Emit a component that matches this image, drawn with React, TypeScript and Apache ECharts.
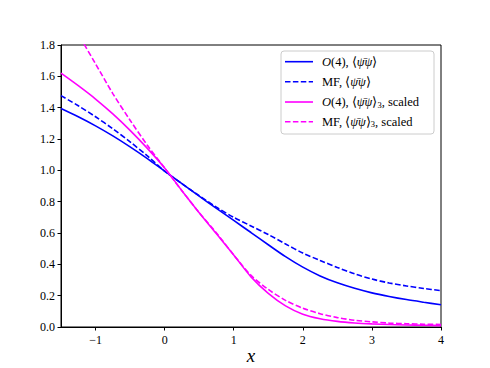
import React, { useEffect, useRef } from "react";
import * as echarts from "echarts";

const xs = [-1.5, -1.25, -1, -0.75, -0.5, -0.25, 0, 0.25, 0.5, 0.75, 1, 1.25, 1.5, 1.75, 2, 2.25, 2.5, 2.75, 3, 3.25, 3.5, 3.75, 4];
const o4Chiral = [1.395, 1.342, 1.284, 1.22, 1.15, 1.075, 0.995, 0.915, 0.835, 0.757, 0.68, 0.603, 0.525, 0.449, 0.382, 0.326, 0.282, 0.247, 0.218, 0.195, 0.175, 0.158, 0.142];
const mfChiral = [1.477, 1.412, 1.342, 1.265, 1.182, 1.092, 0.995, 0.915, 0.838, 0.765, 0.7, 0.645, 0.59, 0.53, 0.472, 0.425, 0.38, 0.339, 0.306, 0.281, 0.262, 0.246, 0.232];
const o4Scaled = [1.62, 1.54, 1.455, 1.36, 1.255, 1.14, 1.015, 0.87, 0.73, 0.595, 0.46, 0.32, 0.215, 0.135, 0.082, 0.053, 0.036, 0.026, 0.02, 0.016, 0.013, 0.011, 0.009];
const mfScaled = [2.07, 1.87, 1.68, 1.49, 1.32, 1.16, 1.015, 0.87, 0.73, 0.6, 0.46, 0.33, 0.24, 0.17, 0.12, 0.085, 0.06, 0.043, 0.033, 0.025, 0.021, 0.018, 0.016];
const xTicks = [-1, 0, 1, 2, 3, 4];
const legendLabels = [
  "{i|O}(4), ⟨{i|ψ̄ψ}⟩",
  "MF, ⟨{i|ψ̄ψ}⟩",
  "{i|O}(4), ⟨{i|ψ̄ψ}⟩{s|3}, scaled",
  "MF, ⟨{i|ψ̄ψ}⟩{s|3}, scaled",
];
const legendColors = ["#0000ff", "#0000ff", "#ff00ff", "#ff00ff"];
const legendDashed = [false, true, false, true];

const FONT = "Liberation Serif";

export default function App() {
  const ref = useRef<HTMLDivElement>(null);
  useEffect(() => {
    if (!ref.current) return;
    const chart = echarts.init(ref.current, undefined, { renderer: "svg" });
    const mk = (ys: number[]) => xs.map((x, i) => [x, ys[i]]);
    const dash = [5.5, 2.4];
    const line = (name: string, ys: number[], color: string, dashed: boolean) => ({
      name,
      type: "line",
      data: mk(ys),
      smooth: 0.3,
      showSymbol: false,
      symbol: "none",
      clip: true,
      lineStyle: { color, width: 1.6, type: dashed ? dash : "solid" },
      itemStyle: { color },
    });
    const legendRows = [61.7, 81.7, 102, 121.7];
    const legendGraphics: any[] = [
      {
        type: "rect",
        shape: { x: 281, y: 51, width: 153, height: 83, r: 3 },
        style: { fill: "#fff", stroke: "#cccccc", lineWidth: 1 },
        z: 100,
      },
    ];
    legendRows.forEach((y, i) => {
      legendGraphics.push({
        type: "line",
        shape: { x1: 285, y1: y, x2: 313, y2: y },
        style: {
          stroke: legendColors[i],
          lineWidth: 1.6,
          lineDash: legendDashed[i] ? dash : null,
        },
        z: 101,
      });
      legendGraphics.push({
        type: "text",
        x: 322,
        y: y,
        z: 101,
        style: {
          text: legendLabels[i],
          fontFamily: FONT,
          fontSize: 12.5,
          fill: "#000",
          verticalAlign: "middle",
          rich: {
            i: { fontStyle: "italic", fontFamily: FONT, fontSize: 12.5, fill: "#000" },
            s: { fontFamily: FONT, fontSize: 8.5, fill: "#000", verticalAlign: "bottom", padding: [5, 0, 0, 0] },
          },
        },
      });
    });
    chart.setOption({
      animation: false,
      textStyle: { fontFamily: FONT },
      grid: {
        left: 61, right: 49, top: 45, bottom: 41,
        outerBoundsMode: "none",
        containLabel: false,
        show: true, borderColor: "#000", borderWidth: 1, backgroundColor: "transparent",
      },
      graphic: legendGraphics,
      xAxis: {
        type: "value",
        min: -1.5,
        max: 4,
        name: "x",
        nameLocation: "middle",
        nameGap: 19,
        nameMoveOverlap: false,
        nameTextStyle: { fontFamily: FONT, fontStyle: "italic", fontSize: 19, color: "#000" },
        splitLine: { show: false },
        axisLine: { show: true, onZero: false, lineStyle: { color: "#000", width: 1 } },
        axisTick: { show: true, length: 3.5, customValues: xTicks, lineStyle: { color: "#000" } },
        axisLabel: {
          customValues: xTicks,
          color: "#000",
          fontSize: 12,
          fontFamily: FONT,
          margin: 7,
          formatter: (v: number) => String(v).replace("-", "−"),
        },
      },
      yAxis: {
        type: "value",
        min: 0,
        max: 1.8,
        interval: 0.2,
        splitLine: { show: false },
        axisLine: { show: true, onZero: false, lineStyle: { color: "#000", width: 1 } },
        axisTick: { show: true, length: 3.5, lineStyle: { color: "#000" } },
        axisLabel: {
          color: "#000",
          fontSize: 12,
          fontFamily: FONT,
          margin: 6,
          formatter: (v: number) => v.toFixed(1),
        },
      },
      series: [
        line("O4", o4Chiral, "#0000ff", false),
        line("MF", mfChiral, "#0000ff", true),
        line("O4s", o4Scaled, "#ff00ff", false),
        line("MFs", mfScaled, "#ff00ff", true),
      ],
    });
    return () => chart.dispose();
  }, []);
  return <div ref={ref} style={{ width: 490, height: 368, position: "absolute", left: 0, top: 0 }} />;
}
